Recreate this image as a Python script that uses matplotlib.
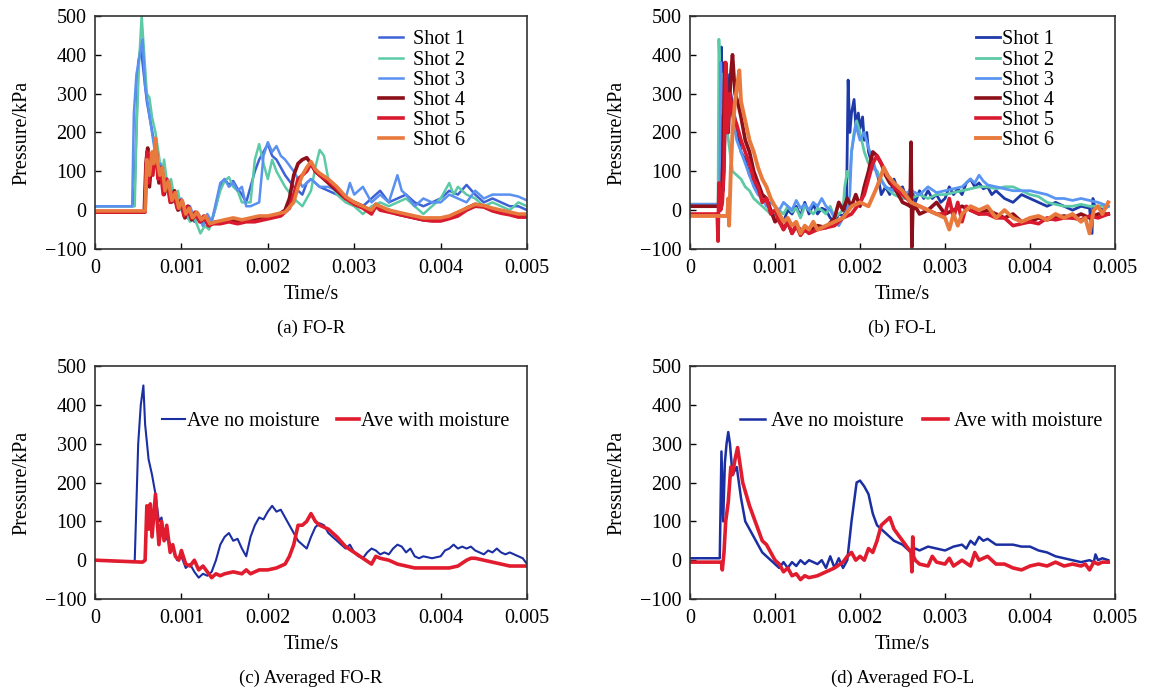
import matplotlib
matplotlib.use('Agg')
import matplotlib.pyplot as plt
import numpy as np

plt.rcParams['font.family'] = ['Liberation Serif', 'DejaVu Serif']

# ---- (a) FO-R, individual shots (time in ms, pressure in kPa) ----
a_t1 = [0, 0.44, 0.46, 0.50, 0.53, 0.56, 0.60, 0.64, 0.68, 0.72, 0.75, 0.78, 0.82, 0.86, 0.90, 0.94, 0.98, 1.02, 1.06, 1.10, 1.15, 1.20, 1.25, 1.30, 1.35, 1.40, 1.45, 1.50, 1.55, 1.60, 1.65, 1.70, 1.75, 1.80, 1.85, 1.90, 1.95, 2.00, 2.05, 2.10, 2.20, 2.30, 2.40, 2.45, 2.50, 2.60, 2.70, 2.80, 2.90, 3.00, 3.10, 3.20, 3.30, 3.40, 3.50, 3.60, 3.70, 3.80, 3.90, 4.00, 4.10, 4.20, 4.30, 4.40, 4.50, 4.60, 4.70, 4.80, 4.90, 5.00]
a_p1 = [10, 10, 60, 380, 420, 360, 280, 230, 180, 120, 70, 110, 50, 70, 20, 40, 0, 20, -20, 0, -30, -10, -40, -20, -30, 10, 60, 80, 65, 75, 55, 40, 20, 60, 100, 130, 150, 170, 140, 130, 90, 60, 40, 70, 80, 60, 50, 40, 30, 20, 10, 30, 50, 20, 30, 40, 20, 10, 20, 30, 50, 40, 65, 40, 20, 30, 20, 10, 10, 0]
a_t2 = [0, 0.46, 0.48, 0.51, 0.54, 0.57, 0.60, 0.63, 0.66, 0.70, 0.74, 0.77, 0.80, 0.84, 0.88, 0.92, 0.96, 1.00, 1.05, 1.10, 1.15, 1.22, 1.27, 1.32, 1.40, 1.45, 1.50, 1.55, 1.60, 1.65, 1.70, 1.80, 1.85, 1.90, 1.95, 2.00, 2.05, 2.10, 2.20, 2.30, 2.40, 2.50, 2.55, 2.60, 2.65, 2.70, 2.80, 2.90, 3.00, 3.10, 3.20, 3.30, 3.40, 3.50, 3.60, 3.70, 3.80, 3.90, 4.00, 4.10, 4.15, 4.20, 4.30, 4.40, 4.50, 4.60, 4.70, 4.80, 4.90, 5.00]
a_p2 = [10, 10, 200, 380, 500, 400, 300, 290, 240, 200, 140, 90, 130, 60, 80, 30, 50, 0, -10, -30, -20, -60, -40, -50, 10, 50, 75, 85, 60, 50, 20, 20, 130, 170, 120, 80, 130, 100, 60, 30, 10, 50, 110, 155, 140, 80, 40, 20, 10, -10, 10, 20, 10, 20, 30, 10, -10, 10, 30, 70, 40, 60, 40, 30, 10, 20, 10, 0, 20, 10]
a_t3 = [0, 0.43, 0.45, 0.48, 0.52, 0.55, 0.58, 0.62, 0.66, 0.70, 0.73, 0.76, 0.80, 0.84, 0.88, 0.92, 0.96, 1.00, 1.05, 1.10, 1.15, 1.20, 1.25, 1.30, 1.35, 1.40, 1.45, 1.50, 1.55, 1.60, 1.65, 1.70, 1.75, 1.80, 1.90, 1.95, 2.00, 2.05, 2.10, 2.15, 2.20, 2.30, 2.40, 2.50, 2.60, 2.70, 2.80, 2.90, 2.95, 3.00, 3.10, 3.20, 3.30, 3.40, 3.50, 3.55, 3.60, 3.70, 3.80, 3.90, 4.00, 4.10, 4.20, 4.30, 4.40, 4.50, 4.60, 4.70, 4.80, 4.90, 5.00]
a_p3 = [10, 10, 250, 350, 400, 440, 320, 260, 200, 140, 90, 120, 60, 80, 30, 50, 10, 30, -10, 10, -20, -20, -40, -10, -30, 20, 70, 80, 60, 70, 50, 60, 10, 10, 20, 140, 175, 150, 165, 140, 130, 100, 60, 80, 60, 60, 50, 30, 70, 40, 60, 20, 40, 20, 90, 50, 40, 10, 30, 20, 20, 40, 30, 20, 50, 30, 40, 40, 40, 35, 25]
a_t4 = [0, 0.57, 0.59, 0.61, 0.63, 0.66, 0.68, 0.71, 0.74, 0.77, 0.80, 0.84, 0.88, 0.92, 0.96, 1.00, 1.04, 1.08, 1.12, 1.17, 1.22, 1.27, 1.32, 1.40, 1.50, 1.60, 1.70, 1.80, 1.90, 2.00, 2.10, 2.20, 2.25, 2.30, 2.35, 2.40, 2.45, 2.50, 2.55, 2.60, 2.70, 2.80, 2.90, 3.00, 3.10, 3.20, 3.25, 3.30, 3.40, 3.50, 3.60, 3.70, 3.80, 3.90, 4.00, 4.10, 4.20, 4.30, 4.40, 4.50, 4.60, 4.70, 4.80, 4.90, 5.00]
a_p4 = [-5, -5, 120, 160, 60, 140, 110, 150, 70, 110, 40, 70, 20, 50, 0, 20, -20, 10, -25, -10, -30, -20, -40, -30, -30, -25, -30, -25, -20, -20, -15, 0, 30, 90, 120, 130, 135, 120, 100, 90, 70, 50, 30, 20, 10, -5, 15, 5, 0, -10, -15, -20, -25, -25, -25, -20, -10, 5, 15, 10, 0, -5, -10, -15, -15]
a_t5 = [0, 0.58, 0.60, 0.62, 0.64, 0.67, 0.70, 0.73, 0.76, 0.79, 0.83, 0.87, 0.91, 0.95, 0.99, 1.03, 1.07, 1.11, 1.16, 1.21, 1.26, 1.31, 1.36, 1.45, 1.55, 1.65, 1.75, 1.85, 1.95, 2.05, 2.15, 2.25, 2.30, 2.35, 2.40, 2.45, 2.50, 2.55, 2.60, 2.70, 2.80, 2.90, 3.00, 3.10, 3.20, 3.25, 3.30, 3.40, 3.50, 3.60, 3.70, 3.80, 3.90, 4.00, 4.10, 4.20, 4.30, 4.40, 4.50, 4.60, 4.70, 4.80, 4.90, 5.00]
a_p5 = [-5, -5, 150, 70, 140, 90, 170, 80, 100, 40, 80, 20, 45, 5, 25, -15, 10, -20, -5, -30, -15, -40, -35, -35, -30, -35, -30, -30, -25, -20, -15, 5, 40, 80, 90, 100, 120, 100, 90, 75, 55, 30, 15, 5, -10, 10, 0, -5, -10, -15, -20, -25, -28, -28, -22, -15, 0, 10, 8, -2, -8, -12, -18, -18]
a_t6 = [0, 0.58, 0.60, 0.63, 0.66, 0.68, 0.70, 0.72, 0.75, 0.78, 0.81, 0.85, 0.89, 0.93, 0.97, 1.01, 1.05, 1.09, 1.13, 1.18, 1.23, 1.28, 1.33, 1.40, 1.50, 1.60, 1.70, 1.80, 1.90, 2.00, 2.10, 2.20, 2.30, 2.35, 2.40, 2.45, 2.50, 2.55, 2.60, 2.70, 2.80, 2.90, 3.00, 3.10, 3.20, 3.25, 3.30, 3.40, 3.50, 3.60, 3.70, 3.80, 3.90, 4.00, 4.10, 4.20, 4.30, 4.40, 4.50, 4.60, 4.70, 4.80, 4.90, 5.00]
a_p6 = [-2, -2, 130, 90, 150, 120, 185, 130, 90, 110, 50, 75, 25, 45, 5, 25, -10, 5, -20, -5, -25, -15, -35, -30, -25, -20, -25, -20, -15, -15, -10, -5, 20, 60, 90, 110, 125, 105, 95, 80, 60, 35, 20, 10, 0, 15, 10, 0, -5, -10, -15, -20, -20, -20, -15, -5, 5, 15, 12, 5, 0, -5, -10, -10]

# ---- (b) FO-L, individual shots ----
b_t1 = [0, 0.34, 0.36, 0.37, 0.39, 0.41, 0.44, 0.46, 0.48, 0.52, 0.56, 0.60, 0.65, 0.70, 0.75, 0.80, 0.85, 0.90, 0.95, 1.00, 1.05, 1.10, 1.15, 1.20, 1.25, 1.30, 1.35, 1.40, 1.45, 1.50, 1.55, 1.60, 1.65, 1.70, 1.75, 1.80, 1.84, 1.86, 1.88, 1.90, 1.93, 1.95, 1.98, 2.00, 2.03, 2.05, 2.08, 2.10, 2.15, 2.20, 2.25, 2.30, 2.35, 2.40, 2.45, 2.50, 2.55, 2.60, 2.65, 2.70, 2.75, 2.80, 2.85, 2.90, 2.95, 3.00, 3.05, 3.10, 3.15, 3.20, 3.25, 3.30, 3.35, 3.40, 3.45, 3.50, 3.55, 3.60, 3.70, 3.80, 3.90, 4.00, 4.10, 4.20, 4.30, 4.40, 4.50, 4.60, 4.70, 4.73, 4.74, 4.76, 4.80, 4.85, 4.92]
b_p1 = [15, 15, 200, 420, 50, 180, 350, 260, 300, 250, 200, 150, 130, 90, 70, 50, 30, 20, 0, -20, -10, -30, 0, -10, 10, -15, 20, -10, 15, -10, 5, 0, -20, -30, -10, -15, 0, 335, 200, 250, 285, 220, 250, 210, 240, 180, 200, 150, 110, 100, 40, 60, 40, 80, 50, 60, 30, 60, 20, 50, 30, 50, 30, 40, 20, 30, 60, 40, 55, 40, 70, 80, 60, 70, 55, 60, 40, 50, 30, 20, 40, 30, 20, 10, 20, 10, 0, 10, 5, -60, 30, 10, 10, 0, 10]
b_t2 = [0, 0.33, 0.34, 0.36, 0.38, 0.41, 0.44, 0.47, 0.50, 0.55, 0.60, 0.65, 0.70, 0.75, 0.80, 0.85, 0.90, 0.95, 1.00, 1.05, 1.10, 1.15, 1.20, 1.25, 1.30, 1.35, 1.40, 1.45, 1.50, 1.55, 1.60, 1.65, 1.70, 1.75, 1.80, 1.82, 1.85, 1.88, 1.90, 1.93, 1.96, 2.00, 2.05, 2.10, 2.15, 2.20, 2.25, 2.30, 2.40, 2.50, 2.60, 2.70, 2.80, 2.90, 3.00, 3.10, 3.20, 3.30, 3.40, 3.50, 3.60, 3.70, 3.80, 3.90, 4.00, 4.10, 4.20, 4.30, 4.40, 4.50, 4.60, 4.70, 4.80, 4.92]
b_p2 = [15, 15, 440, 300, 350, 250, 200, 150, 100, 90, 80, 60, 50, 30, 20, 10, 0, -10, -20, 0, -10, 10, -5, 5, -20, 10, 0, -10, 5, 0, -10, 10, -20, -10, 0, 60, 100, 80, 150, 200, 230, 200, 150, 120, 110, 100, 80, 60, 40, 30, 30, 40, 30, 40, 40, 45, 50, 55, 60, 60, 55, 60, 60, 50, 40, 35, 20, 15, 10, 10, 15, 10, 10, 10]
b_t3 = [0, 0.35, 0.36, 0.38, 0.40, 0.43, 0.46, 0.50, 0.55, 0.60, 0.65, 0.70, 0.75, 0.80, 0.85, 0.90, 0.95, 1.00, 1.05, 1.10, 1.15, 1.20, 1.25, 1.30, 1.35, 1.40, 1.45, 1.50, 1.55, 1.60, 1.65, 1.70, 1.75, 1.80, 1.85, 1.88, 1.90, 1.95, 2.00, 2.05, 2.10, 2.15, 2.20, 2.30, 2.40, 2.50, 2.60, 2.70, 2.80, 2.90, 3.00, 3.10, 3.20, 3.30, 3.35, 3.40, 3.45, 3.50, 3.60, 3.70, 3.80, 3.90, 4.00, 4.10, 4.20, 4.30, 4.40, 4.50, 4.60, 4.70, 4.80, 4.92]
b_p3 = [15, 15, 380, 250, 320, 280, 300, 240, 180, 150, 120, 90, 60, 40, 30, 10, 20, 10, 0, 20, 10, 0, 25, 5, 15, 0, 20, 10, 30, 10, 0, -20, -40, -20, 0, 40, 150, 220, 180, 200, 160, 130, 90, 60, 50, 40, 50, 40, 60, 45, 50, 55, 60, 80, 70, 90, 75, 65, 60, 55, 50, 50, 50, 45, 40, 30, 30, 25, 30, 25, 20, 10]
b_t4 = [0, 0.37, 0.39, 0.41, 0.43, 0.45, 0.48, 0.50, 0.53, 0.56, 0.60, 0.65, 0.70, 0.75, 0.80, 0.85, 0.90, 0.95, 1.00, 1.05, 1.10, 1.15, 1.20, 1.25, 1.30, 1.40, 1.50, 1.60, 1.70, 1.75, 1.80, 1.85, 1.90, 1.95, 2.00, 2.05, 2.10, 2.15, 2.20, 2.25, 2.30, 2.35, 2.40, 2.45, 2.50, 2.55, 2.59, 2.60, 2.61, 2.62, 2.65, 2.70, 2.80, 2.90, 3.00, 3.10, 3.20, 3.30, 3.40, 3.50, 3.60, 3.70, 3.80, 3.90, 4.00, 4.10, 4.20, 4.30, 4.40, 4.50, 4.60, 4.70, 4.80, 4.92]
b_p4 = [10, 10, 150, 380, 250, 200, 350, 400, 300, 280, 240, 180, 150, 100, 70, 40, 30, 0, -30, -20, -50, -30, -60, -40, -50, -55, -40, -45, -20, 20, 0, 30, 10, 40, 10, 60, 100, 150, 140, 120, 90, 70, 60, 40, 20, 15, 10, 175, -95, 0, 10, -10, 0, 20, -10, 0, 10, 0, -10, 0, -10, -20, -10, -30, -30, -20, -25, -20, -15, -20, -10, -20, -10, -10]
b_t5 = [0, 0.32, 0.33, 0.34, 0.36, 0.38, 0.40, 0.42, 0.44, 0.47, 0.50, 0.55, 0.60, 0.65, 0.70, 0.75, 0.80, 0.85, 0.90, 0.95, 1.00, 1.05, 1.10, 1.15, 1.20, 1.25, 1.30, 1.35, 1.40, 1.50, 1.60, 1.70, 1.80, 1.90, 2.00, 2.05, 2.10, 2.15, 2.20, 2.25, 2.30, 2.40, 2.50, 2.60, 2.70, 2.80, 2.90, 3.00, 3.05, 3.10, 3.15, 3.20, 3.25, 3.30, 3.40, 3.50, 3.60, 3.70, 3.80, 3.90, 4.00, 4.10, 4.20, 4.30, 4.40, 4.50, 4.60, 4.70, 4.80, 4.92]
b_p5 = [-10, -10, -80, 70, 0, 20, 100, 380, 200, 300, 250, 220, 180, 150, 120, 80, 60, 20, 30, -10, 0, -30, -50, -30, -60, -40, -65, -50, -60, -50, -45, -40, -20, -10, 20, 40, 80, 120, 140, 120, 100, 60, 40, 20, 10, 0, -10, -10, 30, -20, 20, -30, 10, 0, -10, -10, -20, -20, -40, -35, -30, -35, -20, -25, -20, -20, -25, -15, -20, -10]
b_t6 = [0, 0.44, 0.45, 0.46, 0.48, 0.50, 0.53, 0.56, 0.58, 0.60, 0.63, 0.66, 0.70, 0.75, 0.80, 0.85, 0.90, 0.95, 1.00, 1.05, 1.10, 1.15, 1.20, 1.25, 1.30, 1.35, 1.40, 1.45, 1.50, 1.60, 1.70, 1.80, 1.90, 2.00, 2.10, 2.20, 2.25, 2.28, 2.32, 2.40, 2.50, 2.60, 2.70, 2.80, 2.90, 3.00, 3.05, 3.10, 3.15, 3.20, 3.30, 3.40, 3.50, 3.60, 3.70, 3.80, 3.90, 4.00, 4.10, 4.20, 4.30, 4.40, 4.50, 4.60, 4.65, 4.70, 4.75, 4.80, 4.85, 4.92]
b_p6 = [-15, -15, 30, -40, 100, 200, 280, 330, 360, 280, 250, 220, 180, 150, 110, 80, 60, 30, 10, -10, -30, -20, -40, -30, -60, -40, -50, -30, -50, -40, -30, -20, 10, 20, 10, 60, 90, 110, 90, 70, 50, 20, 10, 0, -10, -20, -50, -10, -40, -10, 10, 0, 10, -20, 0, -20, -30, -20, -15, -25, -10, -20, -10, -30, -20, -60, 0, 10, -10, 20]

# ---- (c) averaged FO-R ----
c_t = [0, 0.44, 0.46, 0.50, 0.53, 0.56, 0.58, 0.62, 0.66, 0.70, 0.74, 0.77, 0.80, 0.85, 0.90, 0.95, 1.00, 1.05, 1.10, 1.15, 1.20, 1.25, 1.30, 1.35, 1.40, 1.45, 1.50, 1.55, 1.60, 1.65, 1.70, 1.75, 1.80, 1.85, 1.90, 1.95, 2.00, 2.05, 2.10, 2.15, 2.20, 2.25, 2.30, 2.35, 2.40, 2.45, 2.50, 2.55, 2.60, 2.65, 2.70, 2.75, 2.80, 2.85, 2.90, 2.95, 3.00, 3.05, 3.10, 3.15, 3.20, 3.25, 3.30, 3.35, 3.40, 3.45, 3.50, 3.55, 3.60, 3.65, 3.70, 3.75, 3.80, 3.90, 4.00, 4.05, 4.10, 4.15, 4.20, 4.25, 4.30, 4.35, 4.40, 4.45, 4.50, 4.55, 4.60, 4.65, 4.70, 4.75, 4.80, 4.85, 4.90, 4.95, 5.00]
c_no = [0, -5, 0, 300, 400, 450, 350, 260, 220, 170, 100, 110, 60, 50, 30, 0, 10, -20, -10, -30, -45, -35, -40, -30, 0, 40, 60, 70, 50, 55, 30, 10, 60, 90, 110, 105, 125, 140, 125, 130, 110, 90, 70, 50, 40, 30, 60, 85, 95, 90, 70, 60, 50, 40, 30, 40, 20, 10, 5, 20, 30, 25, 15, 20, 15, 30, 40, 35, 20, 30, 10, 5, 10, 5, 10, 25, 30, 40, 30, 35, 30, 35, 25, 20, 15, 25, 20, 30, 20, 15, 20, 15, 10, 5, -10]
c_tw = [0, 0.55, 0.58, 0.60, 0.62, 0.64, 0.66, 0.70, 0.72, 0.74, 0.77, 0.80, 0.83, 0.87, 0.90, 0.93, 0.97, 1.00, 1.05, 1.10, 1.15, 1.20, 1.25, 1.30, 1.35, 1.40, 1.45, 1.50, 1.60, 1.70, 1.75, 1.80, 1.90, 2.00, 2.10, 2.20, 2.25, 2.30, 2.35, 2.40, 2.45, 2.50, 2.55, 2.60, 2.70, 2.80, 2.90, 3.00, 3.10, 3.20, 3.25, 3.30, 3.40, 3.50, 3.60, 3.70, 3.80, 3.90, 4.00, 4.10, 4.20, 4.30, 4.35, 4.40, 4.50, 4.60, 4.70, 4.80, 4.90, 5.00]
c_with = [0, -5, 0, 140, 80, 145, 60, 170, 100, 40, 100, 50, 90, 20, 40, 10, 0, 25, -10, -15, 0, -25, -15, -30, -45, -35, -40, -35, -30, -35, -25, -35, -25, -25, -20, -10, 10, 40, 90, 90, 100, 120, 100, 90, 80, 60, 35, 20, 5, -10, 10, 5, 0, -10, -15, -20, -20, -20, -20, -20, -15, 0, 5, 5, 0, -5, -10, -15, -15, -15]

# ---- (d) averaged FO-L ----
d_t = [0, 0.35, 0.37, 0.39, 0.41, 0.43, 0.45, 0.47, 0.50, 0.55, 0.60, 0.65, 0.70, 0.75, 0.80, 0.85, 0.90, 0.95, 1.00, 1.05, 1.10, 1.15, 1.20, 1.25, 1.30, 1.35, 1.40, 1.45, 1.50, 1.55, 1.60, 1.65, 1.70, 1.75, 1.80, 1.85, 1.90, 1.93, 1.96, 2.00, 2.05, 2.10, 2.15, 2.20, 2.30, 2.40, 2.50, 2.55, 2.60, 2.65, 2.70, 2.80, 2.90, 3.00, 3.10, 3.20, 3.25, 3.30, 3.35, 3.40, 3.45, 3.50, 3.60, 3.70, 3.80, 3.90, 4.00, 4.10, 4.20, 4.30, 4.40, 4.50, 4.60, 4.70, 4.75, 4.77, 4.80, 4.85, 4.92]
d_no = [5, 5, 280, 100, 250, 300, 330, 300, 220, 240, 160, 100, 80, 60, 40, 20, 10, 0, -10, -20, -5, -20, -5, -15, 0, -10, 0, -5, -10, 0, -20, 10, -20, 5, -20, 0, 100, 150, 200, 205, 190, 170, 120, 90, 70, 50, 40, 30, 20, 30, 25, 35, 30, 25, 35, 40, 30, 50, 40, 60, 50, 55, 40, 40, 40, 35, 35, 25, 20, 10, 5, 0, -5, 0, -5, 15, 0, 5, 0]
d_tw = [0, 0.37, 0.38, 0.40, 0.42, 0.45, 0.48, 0.50, 0.53, 0.56, 0.58, 0.62, 0.66, 0.70, 0.75, 0.80, 0.85, 0.90, 0.95, 1.00, 1.05, 1.10, 1.15, 1.20, 1.25, 1.30, 1.35, 1.40, 1.50, 1.60, 1.70, 1.80, 1.85, 1.90, 1.95, 2.00, 2.05, 2.10, 2.15, 2.20, 2.25, 2.30, 2.35, 2.40, 2.50, 2.60, 2.61, 2.62, 2.63, 2.65, 2.70, 2.80, 2.85, 2.90, 3.00, 3.05, 3.10, 3.20, 3.30, 3.35, 3.40, 3.50, 3.60, 3.70, 3.80, 3.90, 4.00, 4.10, 4.20, 4.30, 4.40, 4.50, 4.60, 4.65, 4.70, 4.75, 4.80, 4.85, 4.92]
d_with = [-5, -5, -25, 20, 100, 150, 240, 220, 260, 290, 260, 200, 170, 140, 110, 80, 50, 40, 20, 0, -10, -30, -20, -40, -35, -50, -40, -45, -40, -30, -20, -5, 10, 20, 0, 10, 0, 30, 20, 50, 90, 100, 110, 80, 50, 20, -30, 60, 10, 0, -10, -15, 10, -5, -10, 5, -15, 0, -15, 20, 0, 10, -10, -10, -20, -25, -15, -10, -15, -5, -15, -10, -15, -10, -25, -5, -10, -5, -5]

shot_labels = ['Shot 1', 'Shot 2', 'Shot 3', 'Shot 4', 'Shot 5', 'Shot 6']
a_colors = ['#3d62d6', '#5ccaa6', '#5a90f0', '#8c0f1a', '#d8192e', '#e97a3e']
b_colors = ['#1e3aa8', '#5ccaa6', '#5a95f2', '#8c0f1a', '#d8192e', '#e97a3e']
a_lw = [1.8, 1.8, 1.8, 2.6, 2.6, 2.6]
b_lw = [2.0, 2.0, 2.0, 2.6, 2.6, 2.8]

xticks = [0, 0.001, 0.002, 0.003, 0.004, 0.005]
xticklabels = ['0', '0.001', '0.002', '0.003', '0.004', '0.005']
yticks = [-100, 0, 100, 200, 300, 400, 500]
yticklabels = ['\u2212100', '0', '100', '200', '300', '400', '500']

fs = 14.5

fig = plt.figure(figsize=(11.5, 6.91), dpi=100)
ax_a = fig.add_axes([0.0826, 0.6397, 0.3757, 0.3372])
ax_b = fig.add_axes([0.6000, 0.6397, 0.3696, 0.3372])
ax_c = fig.add_axes([0.0826, 0.1331, 0.3757, 0.3372])
ax_d = fig.add_axes([0.6000, 0.1331, 0.3696, 0.3372])


def style(ax, caption):
    ax.set_xlim(0, 0.005)
    ax.set_ylim(-100, 500)
    ax.set_xticks(xticks)
    ax.set_xticklabels(xticklabels, fontsize=fs)
    ax.set_yticks(yticks)
    ax.set_yticklabels(yticklabels, fontsize=fs)
    ax.tick_params(axis='x', direction='in', length=4, width=1, pad=7)
    ax.tick_params(axis='y', direction='in', length=4, width=1, pad=6)
    for s in ax.spines.values():
        s.set_linewidth(1.2)
        s.set_color('#333333')
    ax.set_xlabel('Time/s', fontsize=fs, labelpad=5)
    ax.set_ylabel('Pressure/kPa', fontsize=fs, labelpad=10)
    ax.text(0.5, -0.305, caption, transform=ax.transAxes, ha='center', va='top', fontsize=13.5)


ms = 1e-3
a_t = [a_t1, a_t2, a_t3, a_t4, a_t5, a_t6]
a_p = [a_p1, a_p2, a_p3, a_p4, a_p5, a_p6]
for i in range(6):
    ax_a.plot(np.array(a_t[i]) * ms, a_p[i], color=a_colors[i], lw=a_lw[i], label=shot_labels[i])
style(ax_a, '(a) FO-R')
ax_a.legend(loc='upper right', bbox_to_anchor=(0.885, 0.99), frameon=False, fontsize=fs,
            handlelength=1.2, handletextpad=0.5, labelspacing=0.05, borderaxespad=0.2)

b_t = [b_t1, b_t2, b_t3, b_t4, b_t5, b_t6]
b_p = [b_p1, b_p2, b_p3, b_p4, b_p5, b_p6]
for i in range(6):
    ax_b.plot(np.array(b_t[i]) * ms, b_p[i], color=b_colors[i], lw=b_lw[i], label=shot_labels[i])
style(ax_b, '(b) FO-L')
ax_b.legend(loc='upper right', bbox_to_anchor=(0.885, 0.99), frameon=False, fontsize=fs,
            handlelength=1.2, handletextpad=0.1, labelspacing=0.05, borderaxespad=0.2)

ax_c.plot(np.array(c_t) * ms, c_no, color='#1b2fa3', lw=1.5, label='Ave no moisture')
ax_c.plot(np.array(c_tw) * ms, c_with, color='#e11c2e', lw=2.6, label='Ave with moisture')
style(ax_c, '(c) Averaged FO-R')
ax_c.legend(loc='center', bbox_to_anchor=(0.558, 0.76), ncol=2, frameon=False, fontsize=fs,
            handlelength=1.1, handletextpad=0.1, columnspacing=0.9)

ax_d.plot(np.array(d_t) * ms, d_no, color='#1b2fa3', lw=1.8, label='Ave no moisture')
ax_d.plot(np.array(d_tw) * ms, d_with, color='#e11c2e', lw=2.6, label='Ave with moisture')
style(ax_d, '(d) Averaged FO-L')
ax_d.legend(loc='center', bbox_to_anchor=(0.544, 0.76), ncol=2, frameon=False, fontsize=fs,
            handlelength=1.2, handletextpad=0.3, columnspacing=1.0)

fig.savefig('out.png', dpi=100)
